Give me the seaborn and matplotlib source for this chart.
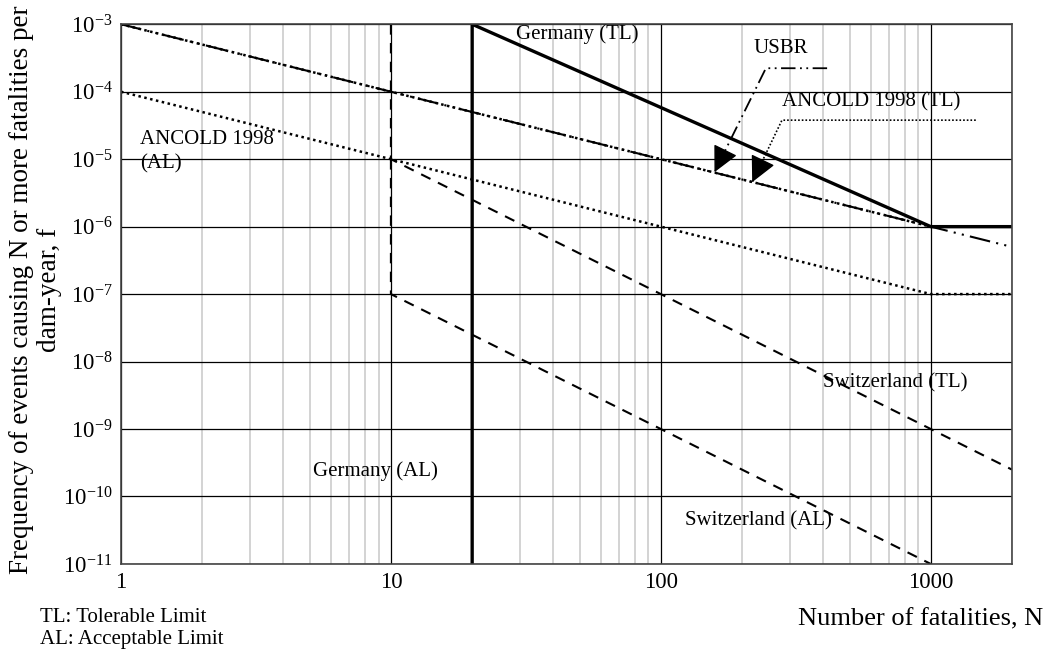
import numpy as np
import pandas as pd
import matplotlib
matplotlib.use('Agg')
import matplotlib.pyplot as plt
import seaborn as sns

# F-N criteria lines (N = fatalities, f = frequency per dam-year)
ancold_tl_N = [1, 1000, 2000]
ancold_tl_f = [1e-3, 1e-6, 1e-6]
ancold_al_N = [1, 1000, 2000]
ancold_al_f = [1e-4, 1e-7, 1e-7]
usbr_N = [1, 2000]
usbr_f = [1e-3, 5e-7]
swiss_tl_N = [10, 10, 2000]
swiss_tl_f = [1e-3, 1e-5, 2.5e-10]
swiss_al_N = [10, 10, 1000]
swiss_al_f = [1e-5, 1e-7, 1e-11]
germany_N = [20, 20, 1000, 2000]
germany_f = [1e-11, 1e-3, 1e-6, 1e-6]

y_ticks = [1e-3, 1e-4, 1e-5, 1e-6, 1e-7, 1e-8, 1e-9, 1e-10, 1e-11]
y_labels = ['$10^{-%d}$' % k for k in range(3, 12)]
x_ticks = [1, 10, 100, 1000]
x_labels = ['1', '10', '100', '1000']

sns.set_theme(style='white')
plt.rcParams['font.family'] = ['Liberation Serif', 'DejaVu Serif']
plt.rcParams['mathtext.fontset'] = 'custom'
plt.rcParams['mathtext.rm'] = 'Liberation Serif'
plt.rcParams['mathtext.it'] = 'Liberation Serif'
plt.rcParams['text.color'] = 'black'
plt.rcParams['axes.labelcolor'] = 'black'
plt.rcParams['xtick.color'] = 'black'
plt.rcParams['ytick.color'] = 'black'

fig = plt.figure(figsize=(10.52, 6.55), dpi=100)
ax = fig.add_axes([0.115, 0.139, 0.847, 0.824])

def draw(N, f, ls, lw):
    df = pd.DataFrame({'N': N, 'f': f})
    sns.lineplot(data=df, x='N', y='f', sort=False, estimator=None, color='black', lw=lw, ax=ax)
    ax.lines[-1].set_linestyle(ls)

draw(ancold_tl_N, ancold_tl_f, (0, (1, 1.4)), 1.8)
draw(ancold_al_N, ancold_al_f, (0, (1, 1.4)), 1.8)
draw(usbr_N, usbr_f, (0, (10, 3, 1, 3, 1, 3)), 1.5)
draw(swiss_tl_N, swiss_tl_f, (0, (5, 4)), 1.5)
draw(swiss_al_N, swiss_al_f, (0, (5, 4)), 1.5)
draw(germany_N, germany_f, '-', 2.4)

ax.set_xscale('log')
ax.set_yscale('log')
ax.set_xlim(1, 2000)
ax.set_ylim(1e-11, 1e-3)
ax.set_xticks(x_ticks)
ax.set_xticklabels(x_labels)
ax.set_yticks(y_ticks)
ax.set_yticklabels(y_labels)
ax.yaxis.set_minor_locator(matplotlib.ticker.NullLocator())
ax.tick_params(which='both', length=0, labelsize=16.5, pad=6)
ax.grid(which='major', color='black', lw=0.9)
ax.grid(which='minor', axis='x', color='#c8c8c8', lw=1.1)
ax.set_axisbelow(True)
for s in ax.spines.values():
    s.set_color('#444444')
    s.set_linewidth(1.2)

ax.set_xlabel('Number of fatalities, N', fontsize=19, ha='center', va='top')
ax.xaxis.set_label_coords(0.897, -0.082)
ax.set_ylabel('Frequency of events causing N or more fatalities per\ndam-year, f', fontsize=19.5, linespacing=1.15)
ax.yaxis.set_label_coords(-0.066, 0.508)

# labels on lines
tfs = 15
ax.text(49, 7.1e-4, 'Germany (TL)', fontsize=tfs, ha='center', va='center')
ax.text(279, 4.4e-4, 'USBR', fontsize=tfs, ha='center', va='center')
ax.text(600, 7e-5, 'ANCOLD 1998 (TL)', fontsize=tfs, ha='center', va='center')
ax.text(1.176, 2.7e-5, 'ANCOLD 1998\n(AL)', fontsize=tfs, ha='left', va='top', linespacing=1.35)
ax.text(737, 4.8e-9, 'Switzerland (TL)', fontsize=tfs, ha='center', va='center')
ax.text(8.78, 2.4e-10, 'Germany (AL)', fontsize=tfs, ha='center', va='center')
ax.text(229, 4.3e-11, 'Switzerland (AL)', fontsize=tfs, ha='center', va='center')

# leader lines (end of label -> corner -> arrow tip on the line)
def leader(pts, ls, lw, frac):
    xs = [p[0] for p in pts]
    ys = [p[1] for p in pts]
    ax.plot(xs, ys, color='black', lw=lw, ls=ls)
    (cx, cy), (tx, ty) = pts[-2], pts[-1]
    bx = 10 ** (np.log10(tx) + frac * (np.log10(cx) - np.log10(tx)))
    by = 10 ** (np.log10(ty) + frac * (np.log10(cy) - np.log10(ty)))
    ax.annotate('', xy=(tx, ty), xytext=(bx, by),
                arrowprops=dict(arrowstyle='-|>,head_length=0.9,head_width=0.45', color='black', lw=1.0,
                                shrinkA=0, shrinkB=0, mutation_scale=18))

leader([(413, 10**-3.652), (245, 10**-3.652), (158, 10**-5.193)], (0, (8, 2.5, 1, 2.5, 1, 2.5)), 1.3, 0.15)
leader([(1468, 10**-4.422), (281, 10**-4.422), (218, 10**-5.341)], (0, (1, 1.2)), 1.2, 0.25)

fig.text(40 / 1052, 1 - 608 / 655, 'TL: Tolerable Limit\nAL: Acceptable Limit', fontsize=15,
         ha='left', va='top', linespacing=1.2)

fig.savefig('out.png', dpi=100)
